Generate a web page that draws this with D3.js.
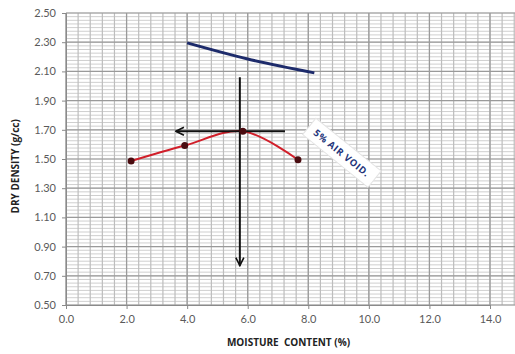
<!DOCTYPE html>
<html>
<head>
<meta charset="utf-8">
<script src="https://cdn.jsdelivr.net/npm/d3@7"></script>
<style>
  body { margin: 0; background: #fff; }
  svg { display: block; font-family: Lato, "Open Sans", sans-serif; }
</style>
</head>
<body>
<div id="chart"></div>
<script>
// compaction curve (moisture %, dry density g/cc)
const moisture = [2.15, 3.92, 5.84, 7.66];
const density = [1.486, 1.592, 1.69, 1.495];

// 5% air void line
const voidMoisture = [4.0, 6.0, 8.2];
const voidDensity = [2.295, 2.185, 2.09];

// construction arrows: OMC / MDD read-off
const omc = 5.74;
const mdd = 1.69;
const hArrow = [7.23, 3.63];   // x from -> to, at mdd
const vArrow = [2.06, 0.77];   // y from -> to, at omc

const xTicks = [0, 2, 4, 6, 8, 10, 12, 14];
const yTicks = [0.5, 0.7, 0.9, 1.1, 1.3, 1.5, 1.7, 1.9, 2.1, 2.3, 2.5];

const width = 515, height = 354;
const margin = {top: 13, right: 0, bottom: 49, left: 66};

const svg = d3.select("#chart").append("svg")
  .attr("width", width)
  .attr("height", height);

const x = d3.scaleLinear().domain([0, 14]).range([margin.left, 490]);
const y = d3.scaleLinear().domain([0.5, 2.5]).range([height - margin.bottom, margin.top]);
const xMax = x.invert(width);

// minor grid
const grid = svg.append("g");
grid.selectAll(".hminor")
  .data(d3.range(0.5, 2.5001, 0.025))
  .enter().append("line")
  .attr("x1", x(0)).attr("x2", width)
  .attr("y1", d => y(d)).attr("y2", d => y(d))
  .attr("stroke", "#cfcfcf").attr("stroke-width", 1);
grid.selectAll(".vminor")
  .data(d3.range(0, xMax, 0.4))
  .enter().append("line")
  .attr("x1", d => x(d)).attr("x2", d => x(d))
  .attr("y1", y(0.5)).attr("y2", y(2.5))
  .attr("stroke", "#bdbdbd").attr("stroke-width", 1.2);

// major grid
grid.selectAll(".hmajor")
  .data(yTicks)
  .enter().append("line")
  .attr("x1", x(0)).attr("x2", width)
  .attr("y1", d => y(d)).attr("y2", d => y(d))
  .attr("stroke", "#9a9a9a").attr("stroke-width", 1.2);
grid.selectAll(".vmajor")
  .data(xTicks)
  .enter().append("line")
  .attr("x1", d => x(d)).attr("x2", d => x(d))
  .attr("y1", y(0.5)).attr("y2", y(2.5))
  .attr("stroke", "#9a9a9a").attr("stroke-width", 1.2);

// axes
const xAxis = svg.append("g")
  .attr("transform", "translate(0," + y(0.5) + ")")
  .call(d3.axisBottom(x).tickValues(xTicks).tickFormat(d3.format(".1f")).tickSize(4).tickPadding(6));
const yAxis = svg.append("g")
  .attr("transform", "translate(" + x(0) + ",0)")
  .call(d3.axisLeft(y).tickValues(yTicks).tickFormat(d3.format(".2f")).tickSize(4).tickPadding(6));
[xAxis, yAxis].forEach(a => {
  a.select(".domain").attr("stroke", "#8a8a8a");
  a.selectAll(".tick line").attr("stroke", "#8a8a8a");
  a.selectAll(".tick text")
    .attr("fill", "#5a5a5a")
    .attr("style", "font-size:11px;font-family:Lato, 'Open Sans', sans-serif;");
});

// 5% air void line
const voidData = voidMoisture.map((m, i) => [m, voidDensity[i]]);
svg.append("path")
  .datum(voidData)
  .attr("fill", "none")
  .attr("stroke", "#1d2b6b")
  .attr("stroke-width", 3)
  .attr("d", d3.line().x(d => x(d[0])).y(d => y(d[1])).curve(d3.curveCatmullRom));

// arrow heads
const defs = svg.append("defs");
defs.append("marker")
  .attr("id", "head")
  .attr("viewBox", "0 0 10 10")
  .attr("refX", 9).attr("refY", 5)
  .attr("markerWidth", 5).attr("markerHeight", 5)
  .attr("orient", "auto")
  .append("path")
  .attr("d", "M1,1 L9,5 L1,9")
  .attr("fill", "none")
  .attr("stroke", "#111")
  .attr("stroke-width", 1.6);

// compaction curve
const curveData = moisture.map((m, i) => [m, density[i]]);
svg.append("path")
  .datum(curveData)
  .attr("fill", "none")
  .attr("stroke", "#d11f2a")
  .attr("stroke-width", 2)
  .attr("d", d3.line().x(d => x(d[0])).y(d => y(d[1])).curve(d3.curveCatmullRom));

// construction arrows
svg.append("line")
  .attr("x1", x(hArrow[0])).attr("x2", x(hArrow[1]))
  .attr("y1", y(mdd)).attr("y2", y(mdd))
  .attr("stroke", "#111").attr("stroke-width", 2)
  .attr("marker-end", "url(#head)");
svg.append("line")
  .attr("x1", x(omc)).attr("x2", x(omc))
  .attr("y1", y(vArrow[0])).attr("y2", y(vArrow[1]))
  .attr("stroke", "#111").attr("stroke-width", 2)
  .attr("marker-end", "url(#head)");

svg.selectAll(".dot")
  .data(curveData)
  .enter().append("circle")
  .attr("class", "dot")
  .attr("cx", d => x(d[0]))
  .attr("cy", d => y(d[1]))
  .attr("r", 3.5)
  .attr("fill", "#4a0c10");

// air void label
const lbl = svg.append("g")
  .attr("transform", "translate(" + x(9.1) + "," + y(1.54) + ") rotate(39)");
lbl.append("rect")
  .attr("x", -42).attr("y", -11).attr("width", 84).attr("height", 21)
  .attr("fill", "#fff")
  .attr("stroke", "#e4e4e4");
lbl.append("text")
  .attr("text-anchor", "middle")
  .attr("dy", "0.35em")
  .attr("fill", "#24357a")
  .attr("style", "font-size:9.5px;font-weight:bold;letter-spacing:0.6px;font-family:'Open Sans', sans-serif;")
  .text("5% AIR VOID.");

// axis titles
svg.append("text")
  .attr("x", (x(0) + width) / 2 - 2)
  .attr("y", 346)
  .attr("text-anchor", "middle")
  .attr("fill", "#222")
  .attr("style", "font-size:10px;font-weight:bold;font-family:'Open Sans', sans-serif;white-space:pre;")
  .text("MOISTURE  CONTENT (%)");
svg.append("text")
  .attr("transform", "translate(19," + y(1.45) + ") rotate(-90)")
  .attr("text-anchor", "middle")
  .attr("fill", "#222")
  .attr("style", "font-size:10px;font-weight:bold;font-family:'Open Sans', sans-serif;")
  .text("DRY DENSITY (g/cc)");
</script>
</body>
</html>
